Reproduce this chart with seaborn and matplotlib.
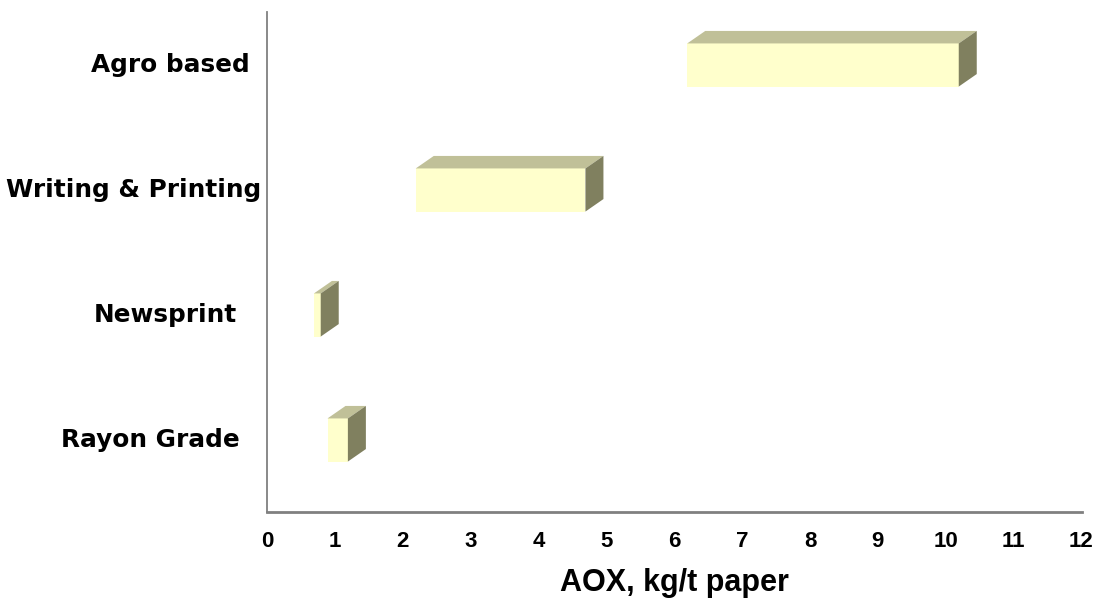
import matplotlib
matplotlib.use("Agg")
import matplotlib.pyplot as plt
import matplotlib.transforms as mtransforms
from matplotlib.patches import Polygon
import seaborn as sns
import pandas as pd

# AOX discharge range per paper grade (kg per tonne of paper)
categories = ["Agro based", "Writing & Printing", "Newsprint", "Rayon Grade"]
aox_low = [6.0, 2.0, 0.5, 0.7]
aox_high = [10.0, 4.5, 0.6, 1.0]
x_ticks = list(range(0, 13))

df = pd.DataFrame({"grade": categories, "low": aox_low, "high": aox_high})
df["span"] = df["high"] - df["low"]

sns.set_theme(style="white")
plt.rcParams["font.family"] = ["DejaVu Sans"]
plt.rcParams["text.color"] = "black"
plt.rcParams["xtick.labelcolor"] = "black"
plt.rcParams["ytick.labelcolor"] = "black"
plt.rcParams["axes.labelcolor"] = "black"

FRONT = "#FFFFCC"
TOP = "#C0C098"
SIDE = "#80805F"

fig = plt.figure(figsize=(11.04, 6.01), dpi=100)
ax = fig.add_axes([267 / 1104, 1 - 512 / 601, (1081.5 - 267) / 1104, 500 / 601])

sns.barplot(data=df, x="span", y="grade", orient="h", order=categories,
            color=FRONT, saturation=1, width=0.345, linewidth=0, ax=ax)

ax.set_xlim(0, 12)
ax.set_ylim(3.5, -0.5)

# pixel geometry of the extruded boxes
px_per_x = ax.transData.transform((1, 0))[0] - ax.transData.transform((0, 0))[0]
px_per_y = ax.transData.transform((0, 0))[1] - ax.transData.transform((0, 1))[1]
shift_x, shift_y = 13.0 / px_per_x, 9.5 / px_per_y      # front face position
depth_x, depth_y = 18.0 / px_per_x, 12.5 / px_per_y     # box depth

for patch, lo in zip(ax.patches, df["low"]):
    w = patch.get_width()
    y0 = patch.get_y()
    h = patch.get_height()
    x0 = lo + shift_x
    x1 = x0 + w
    top = y0 - shift_y
    bot = y0 + h - shift_y
    patch.set_x(x0)
    patch.set_y(top)
    patch.set_zorder(3)
    top_face = Polygon([(x0, top), (x1, top), (x1 + depth_x, top - depth_y),
                        (x0 + depth_x, top - depth_y)], closed=True,
                       facecolor=TOP, edgecolor="none", zorder=3, clip_on=False)
    side_face = Polygon([(x1, top), (x1, bot), (x1 + depth_x, bot - depth_y),
                         (x1 + depth_x, top - depth_y)], closed=True,
                        facecolor=SIDE, edgecolor="none", zorder=3, clip_on=False)
    ax.add_patch(top_face)
    ax.add_patch(side_face)

# axes styling
for s in ["top", "right"]:
    ax.spines[s].set_visible(False)
ax.spines["left"].set_color("#808080")
ax.spines["left"].set_linewidth(1.3)
ax.spines["bottom"].set_color("#808080")
ax.spines["bottom"].set_linewidth(2.0)

ax.set_xticks(x_ticks)
ax.set_xticklabels([str(t) for t in x_ticks])
ax.tick_params(axis="x", length=2, width=0.8, color="#D0D0D0", pad=12)
for lbl in ax.get_xticklabels():
    lbl.set_fontfamily(["Liberation Sans Narrow", "Liberation Sans"])
    lbl.set_fontweight("bold")
    lbl.set_fontsize(16)
    lbl.set_color("black")

ax.set_yticks(range(len(categories)))
ax.set_yticklabels(categories)
ax.set_yticks([0.5, 1.5, 2.5], minor=True)
ax.tick_params(axis="y", which="major", length=0, pad=4)
ax.tick_params(axis="y", which="minor", length=3, width=0.8, color="#D0D0D0")
label_shift = [12, 0, 24, 22]
for lbl, sh in zip(ax.get_yticklabels(), label_shift):
    lbl.set_fontweight("bold")
    lbl.set_fontsize(17.8)
    lbl.set_color("black")
    lbl.set_transform(lbl.get_transform() +
                      mtransforms.ScaledTranslation(-sh / 100, 12 / 100, fig.dpi_scale_trans))

ax.set_ylabel("")
ax.set_xlabel("AOX, kg/t paper", fontfamily=["Liberation Sans Narrow", "Liberation Sans"],
              fontweight="bold", fontsize=22, labelpad=11, color="black")

fig.savefig("out.png", dpi=100)
